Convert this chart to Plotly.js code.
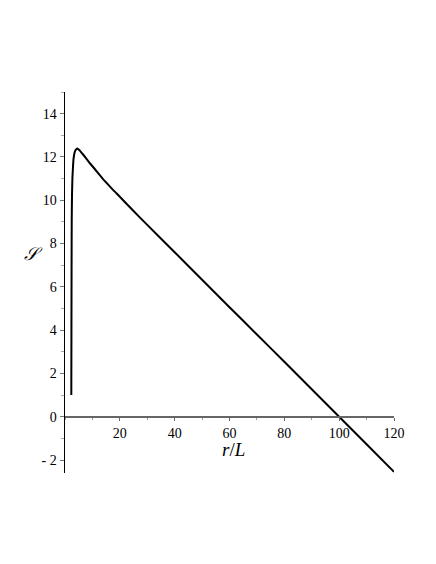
<!DOCTYPE html>
<html>
<head>
<meta charset="utf-8">
<script src="https://cdn.plot.ly/plotly-3.0.1.min.js"></script>
<style>
  html, body { margin: 0; padding: 0; background: #fff; }
  #chart { width: 436px; height: 564px; }
</style>
</head>
<body>
<div id="chart"></div>
<script>
// curve: r/L against S
let rValues = [2.3, 2.35, 2.4, 2.45, 2.55, 2.7, 2.9, 3.1, 3.5, 3.9, 4.5, 5.2, 6.2, 7.5, 9, 11, 13.5, 17, 20, 25, 30, 40, 50, 60, 70, 80, 90, 100, 110, 120];
let sValues = [1.0, 4.0, 7.0, 9.0, 10.2, 11.0, 11.5, 11.9, 12.2, 12.33, 12.39, 12.32, 12.17, 11.97, 11.72, 11.42, 11.03, 10.55, 10.16, 9.5, 8.86, 7.6, 6.33, 5.06, 3.8, 2.54, 1.27, 0.0, -1.27, -2.55];

let xTicks = [20, 40, 60, 80, 100, 120];
let yTicks = [-2, 0, 2, 4, 6, 8, 10, 12, 14];
let yTickText = ["- 2", "0", "2", "4", "6", "8", "10", "12", "14"];

let yMin = -2.6, yMax = 15;

let trace = {
    type: "scatter",
    mode: "lines",
    x: rValues,
    y: sValues,
    line: { color: "#000", width: 2, shape: "spline", smoothing: 0.5 },
    hoverinfo: "skip",
    showlegend: false
};

let layout = {
    width: 436,
    height: 564,
    margin: { l: 64.5, r: 42, t: 92, b: 91 },
    paper_bgcolor: "#fff",
    plot_bgcolor: "#fff",
    font: { family: "'Liberation Serif', 'Times New Roman', serif", size: 13, color: "#000" },
    xaxis: {
        range: [0, 120],
        anchor: "free",
        position: (0 - yMin) / (yMax - yMin), // x axis drawn through S = 0
        tickvals: xTicks,
        ticktext: xTicks.map(String),
        ticks: "outside",
        ticklen: 3,
        tickcolor: "#666",
        minor: { dtick: 10, ticks: "outside", ticklen: 2, tickcolor: "#999" },
        showline: true,
        linecolor: "#666",
        linewidth: 2,
        showgrid: false,
        zeroline: false,
        tickfont: { size: 14 }
    },
    yaxis: {
        range: [yMin, yMax],
        tickvals: yTicks,
        ticktext: yTickText,
        ticks: "outside",
        ticklen: 4,
        tickcolor: "#777",
        minor: { dtick: 1, ticks: "outside", ticklen: 3, tickcolor: "#aaa" },
        showline: true,
        linecolor: "#000",
        linewidth: 1.5,
        showgrid: false,
        zeroline: false,
        tickfont: { size: 14 }
    },
    annotations: [
        {
            text: "<i>r</i>/<i>L</i>",
            xref: "x", yref: "paper",
            x: 61.5, y: 0.0615,
            yanchor: "middle",
            showarrow: false,
            font: { size: 19 }
        },
        {
            text: "<i>𝒮</i>",
            xref: "paper", yref: "y",
            x: -0.13, y: 7.5,
            yanchor: "middle",
            showarrow: false,
            font: { size: 18 }
        }
    ]
};

Plotly.newPlot("chart", [trace], layout, { staticPlot: true });
</script>
</body>
</html>
